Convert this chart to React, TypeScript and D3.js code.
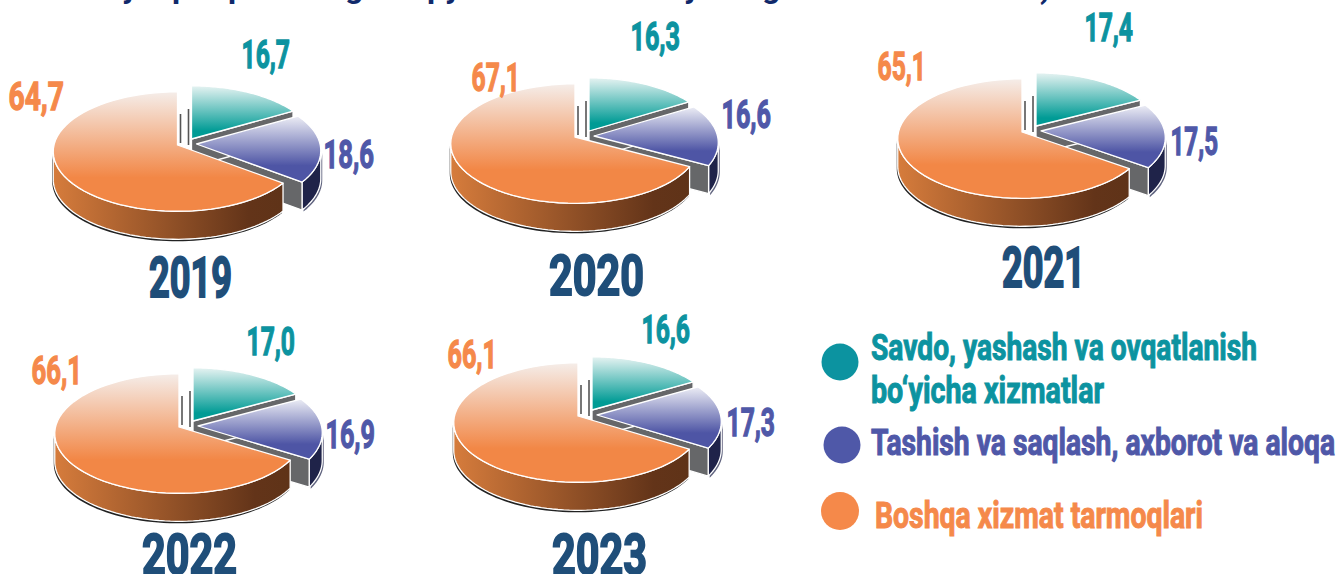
import React from "react";
import * as d3 from "d3";

const years = ["2019", "2020", "2021", "2022", "2023"];
const trade = [16.7, 16.3, 17.4, 17.0, 16.6];
const transport = [18.6, 16.6, 17.5, 16.9, 17.3];
const other = [64.7, 67.1, 65.1, 66.1, 66.1];
const legendLabels = [
  ["Savdo, yashash va ovqatlanish", "bo‘yicha xizmatlar"],
  ["Tashish va saqlash, axborot va aloqa"],
  ["Boshqa xizmat tarmoqlari"],
];

// layout only
const pieCentres = [[177.5, 145], [575, 137], [1022, 132], [179, 427], [578, 416]];
const yearBoxes = [[149, 232, 297], [549, 644, 295], [1002, 1085, 287], [142, 237, 574], [552, 647, 574]];
const tradeBoxes = [[241.5, 290, 68], [630.5, 680, 50], [1084.5, 1133, 41], [246.5, 295, 355], [641.5, 690, 343]];
const transportBoxes = [[323.5, 374, 168], [721.5, 771, 128], [1170.5, 1218, 155], [325.5, 375, 448], [726.5, 775, 436]];
const otherBoxes = [[8.5, 64, 110], [471.5, 520, 91], [877.5, 926, 80], [31.5, 82, 384], [447.5, 497, 368]];
const legendLines = [[871, 1257, 360], [871, 1104, 403], [871, 1335, 455], [875, 1203, 528]];
const legendDots = [[840, 362, 18.5], [842, 445, 18.5], [840, 511, 19]];
const titleGlyphs: [string, number][] = [["y", 122], ["p", 172], ["p", 228], ["g", 345], ["p", 427], ["y", 445], ["y", 684], ["g", 762], [")", 1040]];

const C = { teal: "#0c93a0", purple: "#4f58a8", orange: "#f5894a", year: "#1f4e79", title: "#10296b" };
const FONT = "'Liberation Sans Narrow', Roboto, 'Liberation Sans', sans-serif";

const R = 123.5, A = 59, K = 0.11, DEPTH = 28;
const project = (t: number): [number, number] => {
  const c = Math.cos(t), s = Math.sin(t), w = 1 + K * c;
  return [(R * s) / w, (-A * c) / w];
};
const sample = (a: number, b: number) => d3.range(0, 61).map((i) => project(a + ((b - a) * i) / 60));
const line = d3.line();
const topPath = (a: number, b: number) => line([[0, 0], ...sample(a, b)]) + "Z";
const wallPath = (a: number, b: number) => {
  const arc = sample(a, b);
  const low = arc.map(([x, y]) => [x, y + DEPTH] as [number, number]).reverse();
  return line([...arc, ...low]) + "Z";
};
const radialWall = (t: number) => {
  const [x, y] = project(t);
  return line([[0, 0], [x, y], [x, y + DEPTH], [0, DEPTH]]) + "Z";
};
const LEFT = (264 * Math.PI) / 180, RIGHT = (96 * Math.PI) / 180;
const pieGen = d3.pie<number>().sort(null).value((d) => d);

function Pie({ i }: { i: number }) {
  const [cx, cy] = pieCentres[i];
  const [t, p, o] = pieGen([trade[i], transport[i], other[i]]);
  const s = { stroke: "#fff", strokeWidth: 1.3, strokeLinejoin: "round" as const };
  return (
    <g>
      <g transform={`translate(${cx + 19},${cy - 1})`}>
        <path d={wallPath(Math.max(p.startAngle, RIGHT), p.endAngle)} fill="#1f2349" transform="translate(1.5,1.5)" filter="url(#soft)" opacity={0.7} />
        <path d={wallPath(Math.max(p.startAngle, RIGHT), p.endAngle)} fill="#1f2349" {...s} />
        <path d={radialWall(p.endAngle)} fill="#666769" {...s} />
      </g>
      <g transform={`translate(${cx + 14},${cy - 6})`}>
        <path d={radialWall(t.endAngle)} fill="#666769" {...s} />
        <path d={topPath(t.startAngle, t.endAngle)} fill="url(#gTeal)" {...s} />
        <line x1={-3} x2={-3} y1={-30} y2={6} stroke="#555" strokeWidth={1.6} />
      </g>
      <g transform={`translate(${cx + 19},${cy - 1})`}>
        <path d={topPath(p.startAngle, p.endAngle)} fill="url(#gPurple)" {...s} />
      </g>
      <g transform={`translate(${cx},${cy})`}>
        <line x1={3} x2={3} y1={-31} y2={-2} stroke="#555" strokeWidth={1.6} />
        <path d={wallPath(o.startAngle, LEFT)} fill="#222" transform="translate(-1,2)" filter="url(#soft)" />
        <path d={wallPath(o.startAngle, LEFT)} fill="url(#gSide)" {...s} />
        <path d={topPath(o.startAngle, o.endAngle)} fill="url(#gOrange)" {...s} />
      </g>
    </g>
  );
}

function Fit({ box, fill, size, text, weight = 1.3 }: { box: number[]; fill: string; size: number; text: string; weight?: number }) {
  return (
    <text x={box[0]} y={box[2]} fill={fill} fontSize={size} fontWeight={700} fontFamily={FONT}
      stroke={fill} strokeWidth={weight} textLength={box[1] - box[0]} lengthAdjust="spacingAndGlyphs">
      {text}
    </text>
  );
}
const fmt = (v: number) => v.toFixed(1).replace(".", ",");

export default function App() {
  const flat = legendLabels.flat();
  const legendColors = [C.teal, C.teal, C.purple, C.orange];
  return (
    <svg width={1340} height={574} viewBox="0 0 1340 574" style={{ position: "absolute", left: 0, top: 0, background: "#fff" }}>
      <defs>
        <filter id="soft" x="-5%" y="-5%" width="110%" height="110%"><feGaussianBlur stdDeviation={0.6} /></filter>
        <linearGradient id="gTeal" x1="0" x2="0" y1="0" y2="1">
          <stop offset="0" stopColor="#e6f3f2" /><stop offset="0.85" stopColor="#009b95" /><stop offset="1" stopColor="#009b95" />
        </linearGradient>
        <linearGradient id="gPurple" x1="0" x2="0" y1="0" y2="1">
          <stop offset="0" stopColor="#ecedf5" /><stop offset="0.75" stopColor="#4e55a5" /><stop offset="1" stopColor="#4e55a5" />
        </linearGradient>
        <linearGradient id="gSide" x1="0" x2="1" y1="0" y2="0">
          <stop offset="0" stopColor="#d67c3c" /><stop offset="0.85" stopColor="#633419" /><stop offset="1" stopColor="#5f3318" />
        </linearGradient>
        <linearGradient id="gOrange" gradientUnits="userSpaceOnUse" x1="0" x2="0" y1={-53} y2={66}>
          <stop offset="0" stopColor="#f5ede9" /><stop offset="0.72" stopColor="#f28746" /><stop offset="1" stopColor="#f28746" />
        </linearGradient>
      </defs>

      {titleGlyphs.map(([g, x], i) => (
        <text key={i} x={x} y={-2} fontSize={32} fontWeight={700} fontFamily="Roboto, sans-serif" fill={C.title}>{g}</text>
      ))}

      {years.map((_, i) => <Pie key={i} i={i} />)}

      {years.map((y, i) => (
        <g key={y}>
          <Fit box={yearBoxes[i]} fill={C.year} size={56} text={y} weight={2} />
          <Fit box={tradeBoxes[i]} fill={C.teal} size={39} text={fmt(trade[i])} />
          <Fit box={transportBoxes[i]} fill={C.purple} size={39} text={fmt(transport[i])} />
          <Fit box={otherBoxes[i]} fill={C.orange} size={39} text={fmt(other[i])} />
        </g>
      ))}

      {legendDots.map(([x, y, r], i) => (
        <circle key={i} cx={x} cy={y} r={r} fill={[C.teal, C.purple, C.orange][i]} />
      ))}
      {flat.map((t, i) => (
        <Fit key={i} box={legendLines[i]} fill={legendColors[i]} size={36} text={t} weight={1} />
      ))}
    </svg>
  );
}
